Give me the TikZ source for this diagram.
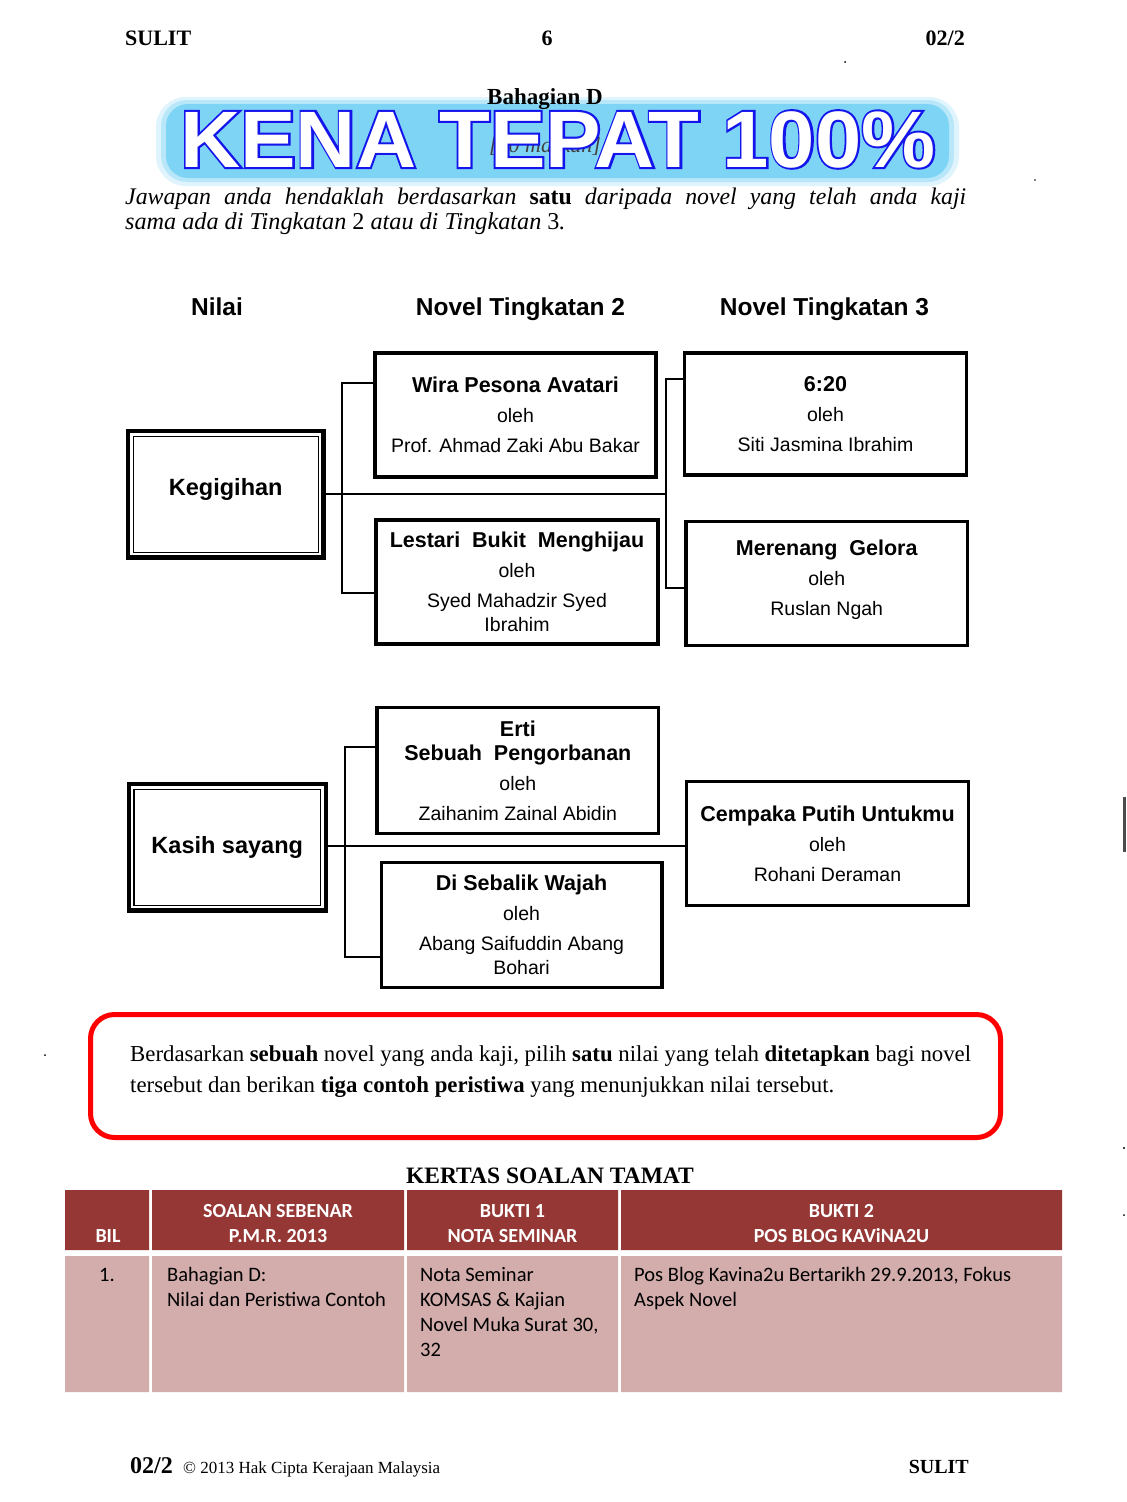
\documentclass[tikz,border=0pt]{standalone}
\usepackage{fontspec}
\setmainfont{Liberation Serif}
\setsansfont{Liberation Sans}
\newfontfamily\arial{Liberation Sans}
\newfontfamily\calibri{Carlito}
\newfontface\kenain{Liberation Sans Bold}[FakeStretch=1.04]
\newfontface\kenaout{Liberation Sans Bold}[FakeStretch=1.04, FakeBold=5]
\newfontfamily\tnr{Liberation Serif}
\usetikzlibrary{calc}
\definecolor{hdr}{RGB}{148,55,53}
\definecolor{bodyc}{RGB}{211,172,172}
\definecolor{glow}{RGB}{125,212,245}
\definecolor{kblue}{RGB}{20,20,235}
\newcommand\boxtitle[1]{{\bfseries\fontsize{21.5}{24}\selectfont #1}}
\begin{document}
\begin{tikzpicture}[x=1pt,y=-1pt,
  conn/.style={line width=2pt},
  bk/.style={draw, line width=3.5pt, inner sep=0pt, align=center, font=\arial\fontsize{19.5}{24}\selectfont},
  nb/.style={draw, line width=4.5pt, inner sep=0pt, align=center, font=\arial\bfseries\fontsize{23.5}{28}\selectfont},
  hd/.style={anchor=base, inner sep=0pt, font=\arial\bfseries\fontsize{24.5}{28}\selectfont},
  th/.style={anchor=base, inner sep=0pt, text=white, font=\calibri\bfseries\fontsize{20}{25}\selectfont},
  td/.style={anchor=base west, inner sep=0pt, font=\calibri\fontsize{20.5}{25}\selectfont},
  serifb/.style={inner sep=0pt, font=\tnr\bfseries\fontsize{22}{24}\selectfont}]
\useasboundingbox (0,0) rectangle (1127,1502);
\fill[white] (0,0) rectangle (1127,1502);

% page header
\node[serifb, anchor=base west] (sulit1) at (125,45) {SULIT};
\node[serifb, anchor=base] (pg) at (547,45) {6};
\node[serifb, anchor=base east] (code1) at (965,45) {02/2};
\fill (845,62) circle (1pt);

% KENA TEPAT glow
\fill[glow!25, rounded corners=30pt] (156,97) rectangle (959,186);
\fill[glow!55, rounded corners=26pt] (161,100) rectangle (954,182);
\fill[glow, rounded corners=22pt] (166,104) rectangle (949,178);
\node[serifb, anchor=base, font=\tnr\bfseries\fontsize{23}{24}\selectfont] (bahD) at (545,104) {Bahagian D};
\node[anchor=base, inner sep=0pt, font=\tnr\itshape\fontsize{22}{24}\selectfont, text=black!75] (mk) at (545,152) {[10 markah]};
\coordinate (kt) at (558,167);
\node[anchor=base, inner sep=0pt, text=kblue, font=\kenaout\fontsize{80}{80}\selectfont] (kenaline) at (kt) {KENA TEPAT 100\%};
\node[anchor=base, inner sep=0pt, text=white, font=\kenain\fontsize{80}{80}\selectfont] (kenatext) at (kt) {KENA TEPAT 100\%};

% instruction
\node[anchor=base west, inner sep=0pt, font=\tnr\fontsize{23.8}{26}\selectfont] (ins1) at (125,204)
  {\makebox[841pt][s]{\itshape Jawapan anda hendaklah berdasarkan {\upshape\bfseries satu} daripada novel yang telah anda kaji}};
\node[anchor=base west, inner sep=0pt, font=\tnr\fontsize{24.2}{26}\selectfont] (ins2) at (125,229)
  {\itshape sama ada di Tingkatan {\upshape 2} atau di Tingkatan {\upshape 3}.};

% column headings
\node[hd] (hnilai) at (217,315) {Nilai};
\node[hd] (hn2) at (520.5,315) {Novel Tingkatan 2};
\node[hd] (hn3) at (824.5,315) {Novel Tingkatan 3};

% top group boxes
\node[nb, minimum width=195.5pt, minimum height=126.5pt] (keg) at (225.75,494.25) {Kegigihan\\[-14pt]\mbox{}};
\draw[line width=1.5pt] ($(keg.south west)+(7.5pt,7.5pt)$) rectangle ($(keg.north east)+(-7.5pt,-7.5pt)$);
\node[bk, minimum width=281pt, minimum height=124pt] (wira) at (515.5,415)
  {\boxtitle{Wira Pesona Avatari}\\[6pt] oleh\\[6pt] Prof. Ahmad Zaki Abu Bakar};
\node[bk, minimum width=282pt, minimum height=124pt] (lest) at (517,582)
  {\boxtitle{Lestari\ \ Bukit\ \ Menghijau}\\[6pt] oleh\\[6pt] Syed Mahadzir Syed\\ Ibrahim};
\node[bk, minimum width=282pt, minimum height=122pt] (six) at (825.5,414)
  {\boxtitle{6:20}\\[6pt] oleh\\[6pt] Siti Jasmina Ibrahim};
\node[bk, minimum width=281.5pt, minimum height=124pt] (mer) at (826.75,583.5)
  {\boxtitle{Merenang\ \ Gelora}\\[6pt] oleh\\[6pt] Ruslan Ngah\\[-12pt]\mbox{}};

\coordinate (j1) at (342,494);
\coordinate (j2) at (666,494);
\draw[conn] (keg.east) -- (keg.east -| j2);
\draw[conn] (wira.west |- 0,383) -| (j1) |- (lest.west |- 0,593);
\draw[conn] (six.west |- 0,379) -| (j2) |- (mer.west |- 0,588);

% bottom group boxes
\node[nb, minimum width=197pt, minimum height=126.7pt] (kasih) at (227.25,847.35) {Kasih sayang};
\draw[line width=1.5pt] ($(kasih.south west)+(7.5pt,7.5pt)$) rectangle ($(kasih.north east)+(-7.5pt,-7.5pt)$);
\node[bk, minimum width=281.7pt, minimum height=126pt] (erti) at (517.85,770.3)
  {\boxtitle{Erti}\\ \boxtitle{Sebuah\ \ Pengorbanan}\\[6pt] oleh\\[6pt] Zaihanim Zainal Abidin};
\node[bk, minimum width=280.5pt, minimum height=125pt] (dise) at (521.55,925.2)
  {\boxtitle{Di Sebalik Wajah}\\[6pt] oleh\\[6pt] Abang Saifuddin Abang\\ Bohari};
\node[bk, minimum width=281.6pt, minimum height=124pt] (cemp) at (827.5,843.7)
  {\boxtitle{Cempaka Putih Untukmu}\\[6pt] oleh\\[6pt] Rohani Deraman};

\coordinate (j3) at (345,846);
\draw[conn] (kasih.east |- 0,846) -- (cemp.west |- 0,846);
\draw[conn] (erti.west |- 0,747) -| (j3) |- (dise.west |- 0,957);

% question box
\draw[red, line width=5pt, rounded corners=24pt] (90.5,1014.5) rectangle (1000.5,1137.5);
\node[anchor=base west, inner sep=0pt, font=\tnr\fontsize{22.8}{31}\selectfont] (q1) at (130,1061)
  {Berdasarkan \textbf{sebuah} novel yang anda kaji, pilih \textbf{satu} nilai yang telah \textbf{ditetapkan} bagi novel};
\node[anchor=base west, inner sep=0pt, font=\tnr\fontsize{22.8}{31}\selectfont] (q2) at (130,1092)
  {tersebut dan berikan \textbf{tiga contoh peristiwa} yang menunjukkan nilai tersebut.};

\node[serifb, anchor=base, font=\tnr\bfseries\fontsize{23.5}{26}\selectfont] (tamat) at (550,1183) {KERTAS SOALAN TAMAT};

% table
\fill[hdr] (65,1190) rectangle (149,1250) (152,1190) rectangle (404,1250)
           (407,1190) rectangle (618,1250) (621,1190) rectangle (1062,1250);
\fill[bodyc] (65,1256) rectangle (149,1392) (152,1256) rectangle (404,1392)
             (407,1256) rectangle (618,1392) (621,1256) rectangle (1062,1392);
\node[th] (tbil) at (108,1242) {BIL};
\node[th] (t2a) at (278,1217) {SOALAN SEBENAR};
\node[th] (t2b) at (278,1242) {P.M.R. 2013};
\node[th] (t3a) at (512.5,1217) {BUKTI 1};
\node[th] (t3b) at (512.5,1242) {NOTA SEMINAR};
\node[th] (t4a) at (841.5,1217) {BUKTI 2};
\node[th] (t4b) at (841.5,1242) {POS BLOG KAViNA2U};
\node[td, anchor=base] (b1) at (107,1281) {1.};
\node[td] (b2a) at (167,1281) {Bahagian D:};
\node[td] (b2b) at (167,1306) {Nilai dan Peristiwa Contoh};
\node[td] (b3a) at (420,1281) {Nota Seminar};
\node[td] (b3b) at (420,1306) {KOMSAS \& Kajian};
\node[td] (b3c) at (420,1331) {Novel Muka Surat 30,};
\node[td] (b3d) at (420,1356) {32};
\node[td] (b4a) at (634,1281) {Pos Blog Kavina2u Bertarikh 29.9.2013, Fokus};
\node[td] (b4b) at (634,1306) {Aspek Novel};

% footer
\node[serifb, anchor=base west, font=\tnr\bfseries\fontsize{24}{26}\selectfont] (f1) at (130,1473) {02/2};
\node[anchor=base west, inner sep=0pt, font=\tnr\fontsize{17}{20}\selectfont] (f2) at (183,1473) {© 2013 Hak Cipta Kerajaan Malaysia};
\node[serifb, anchor=base east, font=\tnr\bfseries\fontsize{20}{24}\selectfont] (f3) at (969,1473) {SULIT};

% scan marks
\fill[black!70] (1123,797) rectangle (1125.5,852);
\fill (1035,180) circle (0.8pt);
\fill (45,1055) circle (1pt);
\fill (1124,1148) circle (1.2pt);
\fill (1124,1215) circle (1pt);
\end{tikzpicture}
\end{document}
